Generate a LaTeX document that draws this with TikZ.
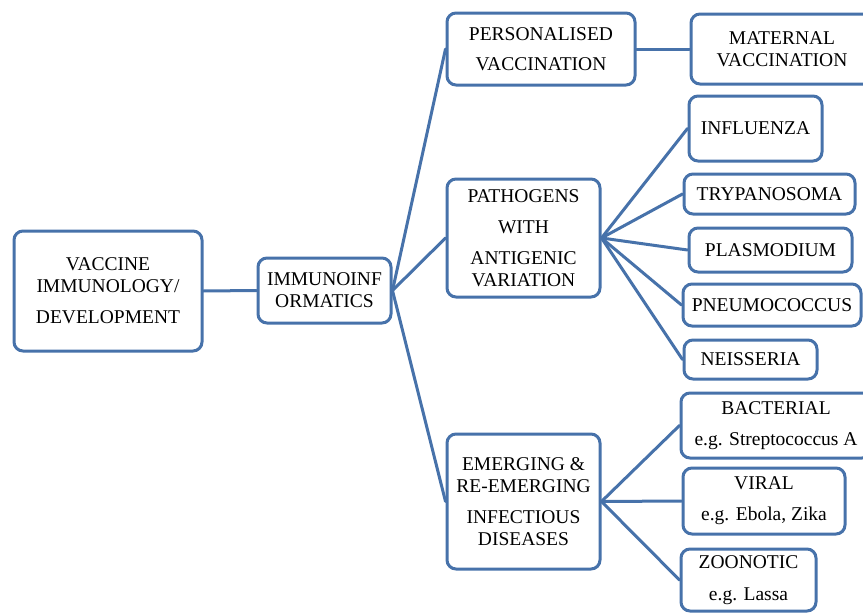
\documentclass[tikz,border=0pt]{standalone}
\usepackage{fontspec}
\setmainfont{Liberation Serif}
\definecolor{B4}{RGB}{71,114,170}

\begin{document}
\begin{tikzpicture}[x=1pt,y=-1pt,
    box/.style={draw=B4, line width=3pt, rounded corners=9pt, fill=white,
                align=center, inner sep=0pt, text=black,
                font=\fontsize{19.5}{22}\selectfont},
    link/.style={draw=B4, line width=3pt, line cap=round}]
  \clip (0,0) rectangle (863,613);
  % root and hub
  \node[box, minimum width=188pt, minimum height=120pt] (vac) at (108,291) {VACCINE\\IMMUNOLOGY/\\[9pt]DEVELOPMENT};
  \node[box, minimum width=133pt, minimum height=65pt] (imm) at (324.5,290.5) {IMMUNOINF\\ORMATICS};
  % second level
  \node[box, minimum width=188pt, minimum height=72pt] (pers) at (541,49) {PERSONALISED\\[8pt]VACCINATION};
  \node[box, minimum width=153pt, minimum height=118pt] (path) at (523.5,238) {PATHOGENS\\[9pt]WITH\\[9pt]ANTIGENIC\\VARIATION};
  \node[box, minimum width=153pt, minimum height=135pt] (emer) at (523.5,501.5) {EMERGING \&\\RE-EMERGING\\[9pt]INFECTIOUS\\DISEASES};
  % third level
  \node[box, minimum width=182pt, minimum height=70pt] (mat) at (782,49) {MATERNAL\\VACCINATION};
  \node[box, minimum width=133pt, minimum height=65pt] (infl) at (755.5,128.5) {INFLUENZA};
  \node[box, minimum width=171pt, minimum height=40pt] (tryp) at (769.5,194) {TRYPANOSOMA};
  \node[box, minimum width=163pt, minimum height=44pt] (plas) at (770.5,250) {PLASMODIUM};
  \node[box, minimum width=178pt, minimum height=42pt] (pneu) at (772,305) {PNEUMOCOCCUS};
  \node[box, minimum width=133pt, minimum height=39pt] (neis) at (750.5,359.5) {NEISSERIA};
  \node[box, minimum width=190pt, minimum height=65pt] (bact) at (776,425.5) {BACTERIAL\\[9pt]e.g. Streptococcus A};
  \node[box, minimum width=162pt, minimum height=66pt] (vir) at (764,501) {VIRAL\\[9pt]e.g. Ebola, Zika};
  \node[box, minimum width=135pt, minimum height=62pt] (zoo) at (748.5,580) {ZOONOTIC\\[10pt]e.g. Lassa};
  % links
  \draw[link] (vac.east) -- (imm.west);
  \foreach \n in {pers,path,emer} \draw[link] (imm.east) -- (\n.west);
  \draw[link] (pers.east) -- (mat.west);
  \foreach \n in {infl,tryp,plas,pneu,neis} \draw[link] (path.east) -- (\n.west);
  \foreach \n in {bact,vir,zoo} \draw[link] (emer.east) -- (\n.west);
\end{tikzpicture}
\end{document}
